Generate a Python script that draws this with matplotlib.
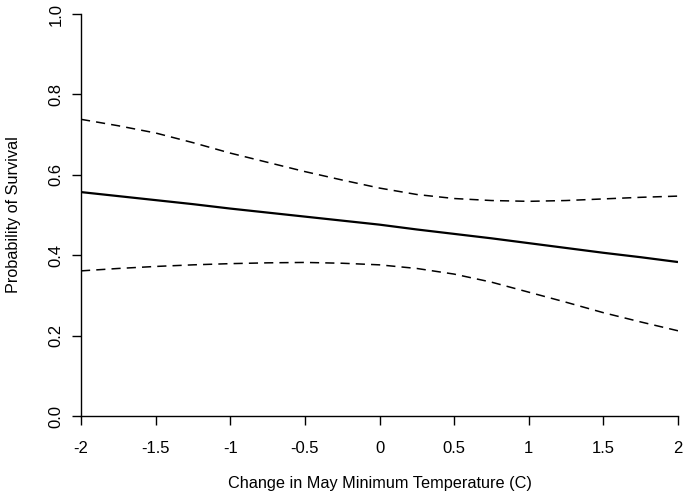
import matplotlib
matplotlib.use("Agg")
import matplotlib.pyplot as plt

# change in May minimum temperature (C)
temp_change = [-2, -1.75, -1.5, -1.25, -1, -0.75, -0.5, -0.25, 0,
               0.25, 0.5, 0.75, 1, 1.25, 1.5, 1.75, 2]

# fitted probability of survival and confidence band
fit = [0.557, 0.547, 0.537, 0.527, 0.516, 0.506, 0.496, 0.486, 0.476,
       0.464, 0.453, 0.442, 0.430, 0.418, 0.406, 0.395, 0.383]
upper = [0.738, 0.722, 0.704, 0.680, 0.654, 0.631, 0.608, 0.587, 0.567,
         0.551, 0.541, 0.536, 0.534, 0.536, 0.540, 0.544, 0.547]
lower = [0.361, 0.367, 0.372, 0.376, 0.379, 0.381, 0.382, 0.380, 0.376,
         0.367, 0.353, 0.333, 0.308, 0.283, 0.257, 0.234, 0.212]

x_ticks = [-2, -1.5, -1, -0.5, 0, 0.5, 1, 1.5, 2]
x_ticklabels = ["-2", "-1.5", "-1", "-0.5", "0", "0.5", "1", "1.5", "2"]
y_ticks = [0.0, 0.2, 0.4, 0.6, 0.8, 1.0]
y_ticklabels = ["0.0", "0.2", "0.4", "0.6", "0.8", "1.0"]

plt.rcParams["font.family"] = ["Liberation Sans", "DejaVu Sans"]

fig = plt.figure(figsize=(6.85, 4.93), dpi=100)
ax = fig.add_axes([81 / 685, 1 - 416 / 493, (678 - 81) / 685, (416 - 14) / 493])

ax.plot(temp_change, fit, color="black", lw=1.6, solid_capstyle="butt")
ax.plot(temp_change, upper, color="black", lw=1.1, dashes=(6, 4))
ax.plot(temp_change, lower, color="black", lw=1.1, dashes=(6, 4))

ax.set_xlim(-2, 2)
ax.set_ylim(0, 1)

for side in ["top", "right"]:
    ax.spines[side].set_visible(False)
for side in ["left", "bottom"]:
    ax.spines[side].set_linewidth(1.0)

ax.set_xticks(x_ticks)
ax.set_xticklabels(x_ticklabels)
ax.set_yticks(y_ticks)
ax.set_yticklabels(y_ticklabels, rotation=90, va="center")
ax.tick_params(direction="out", length=6.7, width=1.0, labelsize=12,
               colors="black")
ax.tick_params(axis="x", pad=11)
ax.tick_params(axis="y", pad=6)

ax.set_xlabel("Change in May Minimum Temperature (C)", fontsize=11.7, labelpad=15)
ax.set_ylabel("Probability of Survival", fontsize=11.7, labelpad=20)

fig.savefig("out.png", dpi=100)
